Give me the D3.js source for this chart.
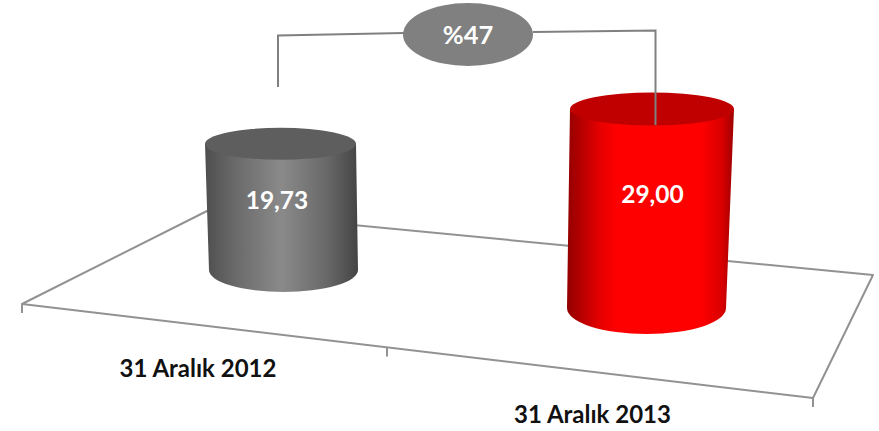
<!DOCTYPE html>
<html><head><meta charset="utf-8">
<script src="https://cdn.jsdelivr.net/npm/d3@7/dist/d3.min.js"></script>
<style>html,body{margin:0;padding:0;background:#fff}svg{display:block}text{font-family:Lato,"Open Sans",sans-serif;font-weight:700}</style>
</head><body><svg id="c" width="879" height="431"></svg>
<script>
// Data
const categories = ["31 Aralık 2012", "31 Aralık 2013"];
const values = [19.73, 29.00];
const valueLabels = ["19,73", "29,00"];
const changeLabel = "%47";

// Layout of the pseudo-3D projection
const depthZoom = [0.932, 1];
const svg = d3.select("#c");
const defs = svg.append("defs");

const baseX = d3.scalePoint().domain(categories).range([283.5, 646.5]);
const baseY = d3.scalePoint().domain(categories).range([270, 308]);
const baseRx = d3.scalePoint().domain(categories).range([74.5, 79.5]);
const baseRy = d3.scalePoint().domain(categories).range([22, 26]);
const topX = d3.scalePoint().domain(categories).range([280.5, 652]);
const topRx = d3.scalePoint().domain(categories).range([75.5, 82]);
const topRy = d3.scalePoint().domain(categories).range([16, 16.5]);
const labelX = d3.scalePoint().domain(categories).range([198, 592.5]);
const labelY = d3.scalePoint().domain(categories).range([377, 423]);
const valueX = d3.scalePoint().domain(categories).range([277, 652.5]);
const valueY = d3.scalePoint().domain(categories).range([209, 203]);
const heightScale = d3.scaleLinear().domain([0, 29]).range([0, 199]);

// Floor and axis
const floorColor = "#929292";
const axisX = d3.scaleLinear().domain([0, 1, 2]).range([22, 387, 813]);
const axisY = d3.scaleLinear().domain([22, 813]).range([304, 398]);
svg.append("path")
  .attr("d", d3.line()([[22,304],[207,211],[873,275],[813,398]]) + "Z")
  .attr("fill", "none").attr("stroke", floorColor).attr("stroke-width", 2).attr("stroke-linejoin","round");
svg.selectAll("line.tick").data([0,1,2]).join("line").attr("class","tick")
  .attr("x1", d => axisX(d)).attr("x2", d => axisX(d))
  .attr("y1", d => axisY(axisX(d))).attr("y2", d => axisY(axisX(d)) + 9)
  .attr("stroke", floorColor).attr("stroke-width", 2);

// Gradients
const palettes = [
  {side:[[0,"#4e4e4e"],[.2,"#6a6a6a"],[.5,"#8a8a8a"],[.8,"#686868"],[1,"#444444"]], top:"#5e5e5e"},
  {side:[[0,"#930000"],[.2,"#e60000"],[.3,"#ff0000"],[.8,"#ff0000"],[.93,"#d80000"],[1,"#9c0000"]], top:"#c00000"}
];
palettes.forEach((p,i) => {
  const g = defs.append("linearGradient").attr("id","side"+i).attr("x1",0).attr("x2",1).attr("y1",0).attr("y2",0);
  p.side.forEach(s => g.append("stop").attr("offset",s[0]).attr("stop-color",s[1]));
});

// Cylinders
const cyl = svg.selectAll("g.cyl").data(categories).join("g").attr("class","cyl");
cyl.append("path")
  .attr("fill",(d,i)=>`url(#side${i})`)
  .attr("d",(d,i)=>{
    const bx=baseX(d), by=baseY(d), brx=baseRx(d), bry=baseRy(d);
    const tx=topX(d), trx=topRx(d), tY=by-heightScale(values[i])*depthZoom[i];
    return `M${tx-trx},${tY}L${bx-brx},${by}A${brx},${bry} 0 0 0 ${bx+brx},${by}L${tx+trx},${tY}Z`;
  });
cyl.append("ellipse")
  .attr("cx",d=>topX(d)).attr("cy",(d,i)=>baseY(d)-heightScale(values[i])*depthZoom[i])
  .attr("rx",d=>topRx(d)).attr("ry",d=>topRy(d))
  .attr("fill",(d,i)=>palettes[i].top);

// Value labels
svg.selectAll("text.val").data(categories).join("text").attr("class","val")
  .attr("x",d=>valueX(d)).attr("y",d=>valueY(d))
  .attr("text-anchor","middle").attr("font-size",24.5).attr("fill","#fff")
  .text((d,i)=>valueLabels[i]);

// Category labels
svg.selectAll("text.cat").data(categories).join("text").attr("class","cat")
  .attr("x",d=>labelX(d)).attr("y",d=>labelY(d))
  .attr("text-anchor","middle").attr("font-size",24).attr("fill","#111")
  .text(d=>d);

// Change bracket
const connector = "#808080";
svg.append("path").attr("fill","none").attr("stroke",connector).attr("stroke-width",2)
  .attr("d",d3.line()([[278,87],[278,35.5],[404,33]]));
svg.append("path").attr("fill","none").attr("stroke",connector).attr("stroke-width",2)
  .attr("d",d3.line()([[533,32],[655.5,30.5],[655.5,125]]));
svg.append("ellipse").attr("cx",468).attr("cy",34.5).attr("rx",65).attr("ry",31.5).attr("fill",connector);
svg.append("text").attr("x",468).attr("y",44).attr("text-anchor","middle")
  .attr("font-size",25.5).attr("fill","#fff").text(changeLabel);
</script></body></html>
